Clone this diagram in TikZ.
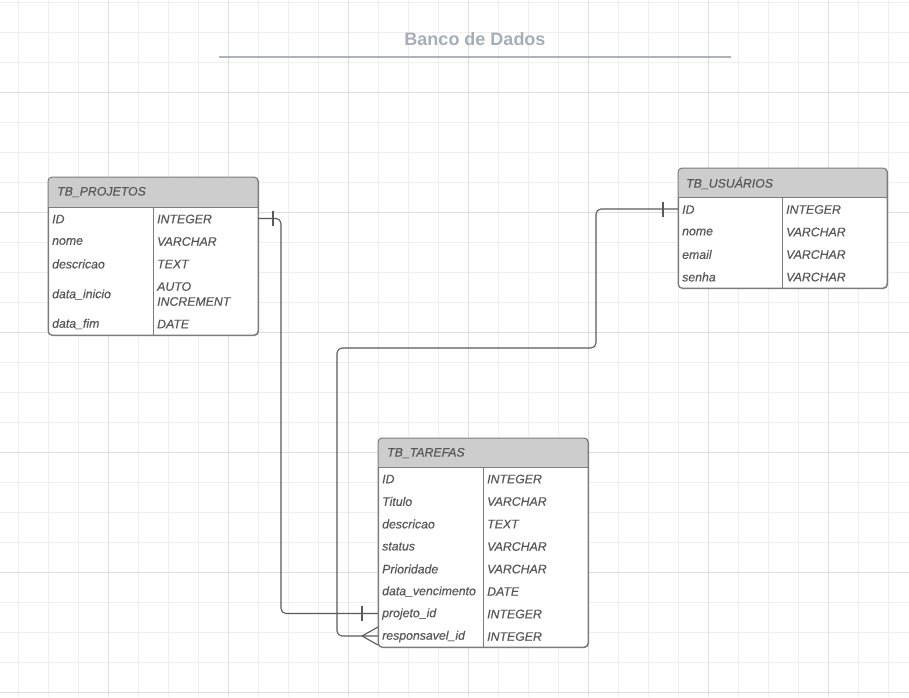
\documentclass[tikz,border=0pt]{standalone}
\usepackage{fontspec}
\setmainfont{Liberation Sans}
\newfontfamily\tblfont{Liberation Sans}[FakeBold=0.35]
\definecolor{gridminor}{HTML}{EFEFEF}
\definecolor{gridmajor}{HTML}{DEDEDE}
\definecolor{tblborder}{HTML}{7C7C7C}
\definecolor{headfill}{HTML}{CDCDCD}
\definecolor{txt}{HTML}{585858}
\definecolor{conncol}{HTML}{5A5A5A}
\definecolor{titlecol}{HTML}{A7AEB8}
\definecolor{titleline}{HTML}{AEB3BA}
\tikzset{
  tblbox/.style={draw=tblborder, line width=1pt, rounded corners=4pt, fill=white, inner sep=0pt, anchor=north west},
  cell/.style={anchor=west, inner sep=0pt, text=txt, font=\tblfont\fontsize{12.3}{15}\selectfont\itshape},
  headtxt/.style={anchor=west, inner sep=0pt, text=txt, font=\tblfont\fontsize{12.3}{13}\selectfont\itshape},
  divider/.style={draw=tblborder, line width=1pt},
  conn/.style={draw=conncol, line width=1.1pt, rounded corners=5pt},
  tick/.style={draw=conncol, line width=1.1pt},
}
\begin{document}
\begin{tikzpicture}[x=1pt,y=-1pt]
\useasboundingbox (0,0) rectangle (909,697);
\fill[white] (0,0) rectangle (909,697);
% grid
\foreach \gx in {18,48,...,908} \draw[gridminor, line width=0.8pt] (\gx,0) -- (\gx,697);
\foreach \gy in {2,32,...,696} \draw[gridminor, line width=0.8pt] (0,\gy) -- (909,\gy);
\foreach \gx in {108,228,...,908} \draw[gridmajor, line width=0.9pt] (\gx,0) -- (\gx,697);
\foreach \gy in {92,212,...,696} \draw[gridmajor, line width=0.9pt] (0,\gy) -- (909,\gy);

% title
\node[font=\fontsize{18}{20}\selectfont\bfseries, text=titlecol, inner sep=0pt] (title) at (475,39) {Banco de Dados};
\draw[titleline, line width=1.4pt] (219,57) -- (731,57);

% ---------- TB_PROJETOS ----------
\node[tblbox, minimum width=210pt, minimum height=158pt] (proj) at (48,177) {};
\begin{scope}
  \clip[rounded corners=4pt] (48,177) rectangle (258,335);
  \fill[headfill] (48,177) rectangle (258,207);
\end{scope}
\draw[tblborder, line width=1pt, rounded corners=4pt] (48,177) rectangle (258,335);
\draw[divider] (48,207) -- (258,207);
\draw[divider] (153,207) -- (153,335);
\node[headtxt] (projh) at (57,192) {TB\_PROJETOS};
\node[cell] (p1a) at (52,219) {ID};
\node[cell] (p1b) at (157,219) {INTEGER};
\node[cell] (p2a) at (52,241.5) {nome};
\node[cell] (p2b) at (157,241.5) {VARCHAR};
\node[cell] (p3a) at (52,264) {descricao};
\node[cell] (p3b) at (157,264) {TEXT};
\node[cell] (p4a) at (52,294.5) {data\_inicio};
\node[cell, align=left] (p4b) at (157,294) {AUTO\\INCREMENT};
\node[cell] (p5a) at (52,324) {data\_fim};
\node[cell] (p5b) at (157,324) {DATE};
\coordinate (projID) at (258,218.5);

% ---------- TB_USUARIOS ----------
\node[tblbox, minimum width=209pt, minimum height=120pt] (usu) at (678,168) {};
\begin{scope}
  \clip[rounded corners=4pt] (678,168) rectangle (887,288);
  \fill[headfill] (678,168) rectangle (887,197);
\end{scope}
\draw[tblborder, line width=1pt, rounded corners=4pt] (678,168) rectangle (887,288);
\draw[divider] (678,197) -- (887,197);
\draw[divider] (782,197) -- (782,288);
\node[headtxt] (usuh) at (686,183) {TB\_USUÁRIOS};
\node[cell] (u1a) at (682,209.5) {ID};
\node[cell] (u1b) at (786,209.5) {INTEGER};
\node[cell] (u2a) at (682,232) {nome};
\node[cell] (u2b) at (786,232) {VARCHAR};
\node[cell] (u3a) at (682,254.5) {email};
\node[cell] (u3b) at (786,254.5) {VARCHAR};
\node[cell] (u4a) at (682,277) {senha};
\node[cell] (u4b) at (786,277) {VARCHAR};
\coordinate (usuID) at (678,209);

% ---------- TB_TAREFAS ----------
\node[tblbox, minimum width=210pt, minimum height=209pt] (tar) at (378,438) {};
\begin{scope}
  \clip[rounded corners=4pt] (378,438) rectangle (588,647);
  \fill[headfill] (378,438) rectangle (588,467);
\end{scope}
\draw[tblborder, line width=1pt, rounded corners=4pt] (378,438) rectangle (588,647);
\draw[divider] (378,467) -- (588,467);
\draw[divider] (483,467) -- (483,647);
\node[headtxt] (tarh) at (387,453) {TB\_TAREFAS};
\node[cell] (t1a) at (382,479) {ID};
\node[cell] (t1b) at (487,479) {INTEGER};
\node[cell] (t2a) at (382,501.5) {Titulo};
\node[cell] (t2b) at (487,501.5) {VARCHAR};
\node[cell] (t3a) at (382,524) {descricao};
\node[cell] (t3b) at (487,524) {TEXT};
\node[cell] (t4a) at (382,546.5) {status};
\node[cell] (t4b) at (487,546.5) {VARCHAR};
\node[cell] (t5a) at (382,569) {Prioridade};
\node[cell] (t5b) at (487,569) {VARCHAR};
\node[cell] (t6a) at (382,591.5) {data\_vencimento};
\node[cell] (t6b) at (487,591.5) {DATE};
\node[cell] (t7a) at (382,614) {projeto\_id};
\node[cell] (t7b) at (487,614) {INTEGER};
\node[cell] (t8a) at (382,636.5) {responsavel\_id};
\node[cell] (t8b) at (487,636.5) {INTEGER};
\coordinate (tarProj) at (378,613.5);
\coordinate (tarResp) at (378,636);

% ---------- connectors ----------
% TB_PROJETOS.ID -> TB_TAREFAS.projeto_id
\draw[conn] (projID) -- (281,218.5) -- (281,613.5) -- (tarProj);
\draw[tick] (273,211) -- (273,226);
\draw[tick] (362,606) -- (362,621);
% TB_USUARIOS.ID -> TB_TAREFAS.responsavel_id
\draw[conn] (usuID) -- (596,209) -- (596,348) -- (337,348) -- (337,636) -- (tarResp);
\draw[tick] (663,201.5) -- (663,216.5);
\coordinate (crow) at (362,636);
\draw[tick] (crow) -- (378,627);
\draw[tick] (crow) -- (378,645);
\end{tikzpicture}
\end{document}
